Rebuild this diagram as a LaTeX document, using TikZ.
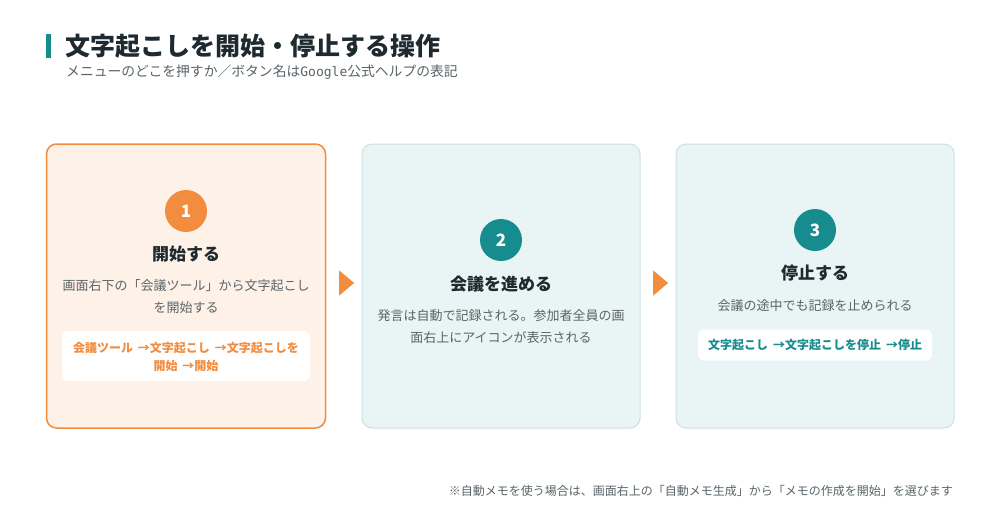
\documentclass[tikz,border=0pt]{standalone}
\usepackage{fontspec}
\setmainfont{Noto Sans CJK JP}
\newfontfamily\monofont{DejaVu Sans Mono}
\usetikzlibrary{shapes.geometric}
\definecolor{orng}{HTML}{F28C3E}
\definecolor{orngfill}{HTML}{FEF1E7}
\definecolor{teal2}{HTML}{178C8E}
\definecolor{cardfill}{HTML}{E9F4F4}
\definecolor{cardline}{HTML}{CCE1E2}
\definecolor{dark}{HTML}{1E2A30}
\definecolor{graytxt}{HTML}{5A6468}
\newcommand{\arr}{\hspace{5pt}→}
\tikzset{
  card/.style={draw=cardline, fill=cardfill, line width=1pt, rounded corners=10pt, minimum width=278pt, minimum height=284pt, inner sep=0pt},
  num/.style={circle, minimum size=42pt, inner sep=0pt, text=white, font=\fontsize{17}{17}\selectfont\bfseries},
  stitle/.style={text=dark, font=\fontsize{17}{20}\selectfont\bfseries, inner sep=0pt},
  desc/.style={text=graytxt, font=\fontsize{13}{22}\selectfont, align=center, inner sep=0pt},
  pathbox/.style={fill=white, rounded corners=6pt, inner sep=0pt},
  pathtxt/.style={font=\fontsize{12}{18}\selectfont\bfseries, align=center, inner sep=0pt},
  flowarrow/.style={fill=orng, draw=none, isosceles triangle, isosceles triangle apex angle=80, minimum width=17pt, minimum height=15pt, inner sep=0pt}
}
\begin{document}
\begin{tikzpicture}[x=1pt,y=-1pt]
\useasboundingbox (0,0) rectangle (1000,523);
\fill[white] (0,0) rectangle (1000,523);
% header
\fill[teal2] (46,34) rectangle (51,58);
\node[anchor=west, text=dark, inner sep=0pt, font=\fontsize{25}{25}\selectfont\bfseries] (title) at (65,46) {文字起こしを開始・停止する操作};
\node[anchor=west, text=graytxt, inner sep=0pt, font=\fontsize{13.8}{13}\selectfont] (subtitle) at (66,72) {メニューのどこを押すか／ボタン名は{\monofont\fontsize{13}{13}\selectfont Google}公式ヘルプの表記};
% cards
\node[card, draw=orng, fill=orngfill, line width=1.5pt, minimum width=279pt] (c1) at (186,286) {};
\node[card] (c2) at (501,286) {};
\node[card] (c3) at (815,286) {};
% card 1
\node[num, fill=orng] (n1) at (186,211) {1};
\node[stitle] (t1) at (186,254) {開始する};
\node[desc] (d1) at (186,297) {画面右下の「会議ツール」から文字起こし\\を開始する};
\node[pathbox, minimum width=248pt, minimum height=50pt] (b1) at (186,356) {};
\node[pathtxt, text=orng] (p1) at (186,357) {会議ツール\arr 文字起こし\arr 文字起こしを\\開始\arr 開始};
% card 2
\node[num, fill=teal2] (n2) at (501,240) {2};
\node[stitle] (t2) at (501,284) {会議を進める};
\node[desc] (d2) at (501,327) {発言は自動で記録される。参加者全員の画\\面右上にアイコンが表示される};
% card 3
\node[num, fill=teal2] (n3) at (815,230) {3};
\node[stitle] (t3) at (815,273) {停止する};
\node[desc] (d3) at (815,306) {会議の途中でも記録を止められる};
\node[pathbox, minimum width=234pt, minimum height=31pt] (b3) at (815,345) {};
\node[pathtxt, text=teal2] (p3) at (815,345) {文字起こし\arr 文字起こしを停止\arr 停止};
% arrows
\node[flowarrow] (a1) at (345,283) {};
\node[flowarrow] (a2) at (659,283) {};
% footnote
\node[anchor=east, text=graytxt, inner sep=0pt, font=\fontsize{12}{12}\selectfont] (foot) at (953,491) {※自動メモを使う場合は、画面右上の「自動メモ生成」から「メモの作成を開始」を選びます};
\end{tikzpicture}
\end{document}
